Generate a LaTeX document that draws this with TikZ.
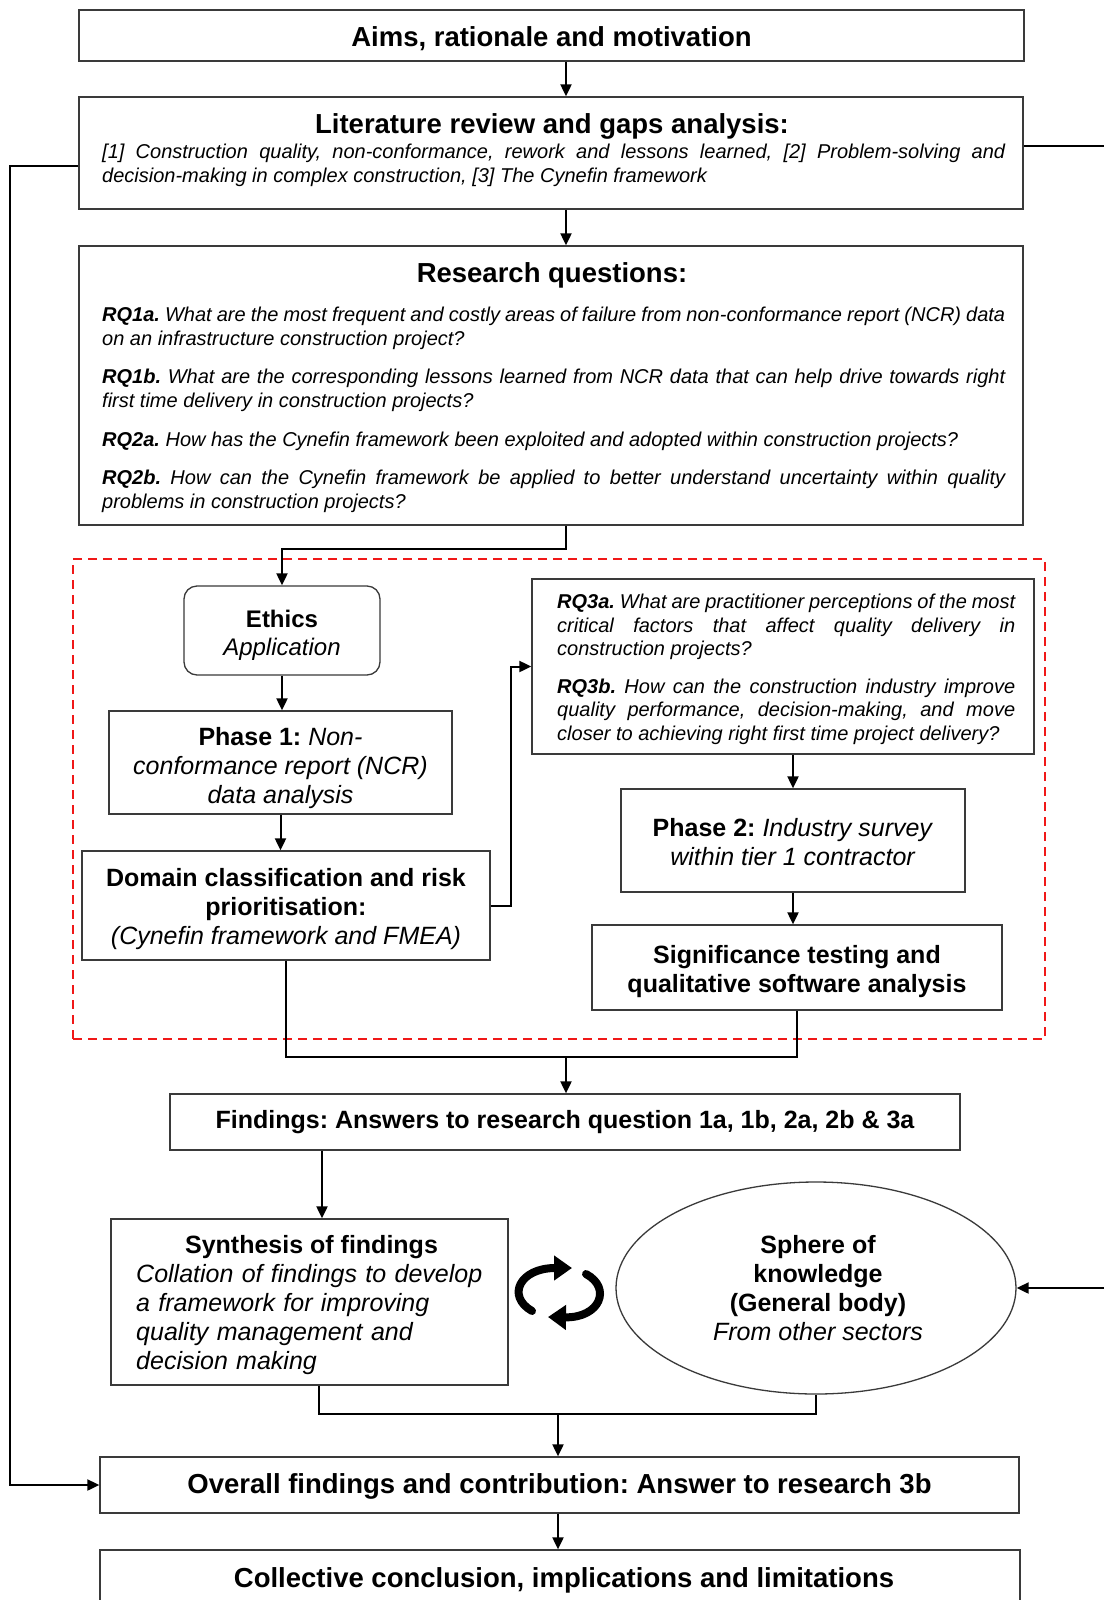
\documentclass[tikz,border=0pt]{standalone}
\usepackage{fontspec}
\setmainfont{Liberation Sans}
\usetikzlibrary{arrows.meta,shapes.geometric,calc}
\definecolor{edgegray}{HTML}{3A3A3A}
\definecolor{dashred}{HTML}{F01818}
\newcommand{\fsz}[2]{\fontsize{#1}{#2}\selectfont}
\frenchspacing
\begin{document}
\frenchspacing
\begin{tikzpicture}[x=1pt,y=-1pt,
  box/.style={draw=edgegray, line width=1.3pt, rectangle, inner sep=0pt, fill=white},
  label/.style={inner sep=0pt, align=center},
  conn/.style={line width=2pt, draw=black},
  arr/.style={conn, -{Triangle[length=12pt,width=11pt]}},
  cyc/.style={line width=8pt, line cap=round, -{Triangle[length=18pt,width=24pt]}},
  titletxt/.style={font=\bfseries\fsz{27.5}{32}},
  midtxt/.style={font=\fsz{25}{29}},
  midbold/.style={font=\bfseries\fsz{25}{29}},
  para/.style={font=\itshape\fsz{20}{23.5}, anchor=base west, inner sep=0pt, align=justify},
]
\clip (0,0) rectangle (1104,1600);
\fill[white] (0,0) rectangle (1104,1600);

% dashed frame around the two research phases
\node[draw=dashred, line width=2pt, dash pattern=on 9pt off 6pt, minimum width=972pt, minimum height=480pt, inner sep=0pt] (phases) at (559,799) {};

% main column
\node[box, minimum width=945pt, minimum height=51pt] (aims) at (551.5,35.5) {};
\node[label, titletxt] (aimstext) at ([yshift=-3pt]aims.center) {Aims, rationale and motivation};

\node[box, minimum width=944pt, minimum height=112pt] (lit) at (551,153) {};
\node[titletxt, anchor=base] (littitle) at (552,133) {Literature review and gaps analysis:};
\node[para, text width=903pt] (litbody) at (102,158.5) {[1] Construction quality, non-conformance, rework and lessons learned, [2] Problem-solving and\linebreak decision-making in complex construction, [3] The Cynefin framework};

\node[box, minimum width=944pt, minimum height=279pt] (rq) at (551,385.5) {};
\node[titletxt, anchor=base] (rqtitle) at (552,282) {Research questions:};
\node[para, text width=903pt] (rqbody) at (102,321.5) {%
\textbf{RQ1a.} What are the most frequent and costly areas of failure from non-conformance report (NCR) data\linebreak on an infrastructure construction project?\par\vspace{15.3pt}
\textbf{RQ1b.} What are the corresponding lessons learned from NCR data that can help drive towards right\linebreak first time delivery in construction projects?\par\vspace{15.3pt}
\textbf{RQ2a.} How has the Cynefin framework been exploited and adopted within construction projects?\par\vspace{15.3pt}
\textbf{RQ2b.} How can the Cynefin framework be applied to better understand uncertainty within quality\linebreak problems in construction projects?};

% phase 1 branch
\node[box, rounded corners=13pt, minimum width=196pt, minimum height=89pt] (ethics) at (282,630.5) {};
\node[label, font=\fsz{24}{27.5}] (ethicstext) at ([yshift=-5pt]ethics.center) {\textbf{Ethics}\\\textit{Application}};
\node[box, minimum width=343pt, minimum height=103pt] (p1) at (280.5,762.5) {};
\node[label, midtxt] (p1text) at ([yshift=-6pt]p1.center) {\textbf{Phase 1:} \textit{Non-}\\\textit{conformance report (NCR)}\\\textit{data analysis}};
\node[box, minimum width=408pt, minimum height=109pt] (dom) at (286,905.5) {};
\node[label, midtxt] (domtext) at ([yshift=-4pt]dom.center) {\textbf{Domain classification and risk}\\\textbf{prioritisation:}\\\textit{(Cynefin framework and FMEA)}};

% phase 2 branch
\node[box, minimum width=502pt, minimum height=175pt] (rq3) at (783,666.5) {};
\node[para, text width=458pt] (rq3body) at (557,608.5) {%
\textbf{RQ3a.} What are practitioner perceptions of the most\linebreak critical factors that affect quality delivery in\linebreak construction projects?\par\vspace{14pt}
\textbf{RQ3b.} How can the construction industry improve\linebreak quality performance, decision-making, and move\linebreak closer to achieving right first time project delivery?};
\node[box, minimum width=344pt, minimum height=103pt] (p2) at (793,840.5) {};
\node[label, midtxt] (p2text) at ([yshift=-2pt]p2.center) {\textbf{Phase 2:} \textit{Industry survey}\\\textit{within tier 1 contractor}};
\node[box, minimum width=410pt, minimum height=85pt] (sig) at (797,967.5) {};
\node[label, midbold] (sigtext) at ([yshift=-4pt]sig.center) {Significance testing and\\qualitative software analysis};

% findings and synthesis
\node[box, minimum width=790pt, minimum height=56pt] (find) at (565,1122) {};
\node[label, midbold] (findtext) at ([yshift=-0.5pt]find.center) {Findings: Answers to research question 1a, 1b, 2a, 2b \& 3a};

\node[box, minimum width=397pt, minimum height=166pt] (syn) at (309.5,1302) {};
\node[midbold, anchor=base] (syntitle) at (311.5,1253) {Synthesis of findings};
\node[midtxt, anchor=base west, inner sep=0pt, text width=365pt, align=left] (synbody) at (136,1282.5) {\itshape Collation of findings to develop\\a framework for improving\\quality management and\\decision making};

\node[draw=edgegray, line width=1.3pt, ellipse, fill=white, inner sep=0pt, minimum width=400pt, minimum height=212pt] (sph) at (816,1288) {};
\node[label, midtxt] (sphtext) at ([xshift=2pt]sph.center) {\textbf{Sphere of}\\\textbf{knowledge}\\\textbf{(General body)}\\\textit{From other sectors}};

% exchange symbol between synthesis and sphere of knowledge
\draw[cyc] (532,1311) .. controls (506,1296) and (520,1268) .. (572,1268);
\draw[cyc] (586,1274) .. controls (612,1288) and (600,1318) .. (548,1317);

\node[box, minimum width=919pt, minimum height=56pt] (over) at (559.5,1485) {};
\node[label, titletxt] (overtext) at ([yshift=-1pt]over.center) {Overall findings and contribution: Answer to research 3b};
\node[box, minimum width=920pt, minimum height=90pt] (coll) at (560,1595) {};
\node[titletxt, anchor=base] (colltext) at (564,1587) {Collective conclusion, implications and limitations};

% connectors
\coordinate (spine) at (566,0);
\coordinate (spinelow) at (558,0);
\coordinate (fx) at (322,0);
\coordinate (sx) at (319,0);
\coordinate (leftx) at (10,0);
\coordinate (rightedge) at (1104,0);
\coordinate (joinA) at (0,1057);
\coordinate (joinB) at (0,1414);
\coordinate (litout) at ([yshift=7pt]lit.east);
\coordinate (litleft) at ([yshift=-13pt]lit.west);

\draw[arr] (aims.south -| spine) -- (lit.north -| spine);
\draw[arr] (lit.south -| spine) -- (rq.north -| spine);
\draw[arr] (rq.south -| spine) -- ++(0,23) -| (ethics.north);
\draw[arr] (ethics.south) -- (ethics.south |- p1.north);
\draw[arr] (p1.south) -- (p1.south |- dom.north);
\draw[arr] (dom.east) -- ++(20,0) |- (rq3.west);
\draw[arr] (p2.north |- rq3.south) -- (p2.north);
\draw[arr] (p2.south) -- (p2.south |- sig.north);
\draw[conn] (dom.south) -- (dom.south |- joinA) -- (sig.south |- joinA) -- (sig.south);
\draw[arr] (spine |- joinA) -- (find.north -| spine);
\draw[arr] (find.south -| fx) -- (syn.north -| fx);
\draw[conn] (syn.south -| sx) -- (sx |- joinB) -- (sph.south |- joinB) -- (sph.south);
\draw[arr] (spinelow |- joinB) -- (over.north -| spinelow);
\draw[arr] (over.south -| spinelow) -- (coll.north -| spinelow);
\draw[arr] (litleft) -| (leftx |- over.west) -- (over.west);
\draw[conn] (litout) -- (litout -| rightedge);
\draw[arr] (rightedge |- sph.east) -- (sph.east);
\end{tikzpicture}
\end{document}
